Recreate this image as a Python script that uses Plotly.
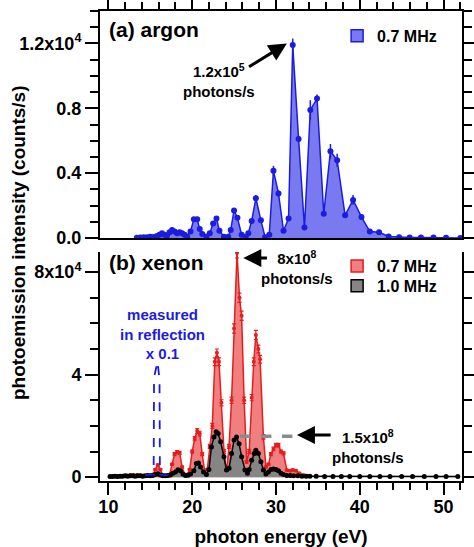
import plotly.graph_objects as go

# ---------------- data ----------------
# (a) argon, 0.7 MHz  (counts/s)
argon_x = [13.4, 13.8, 14.2, 14.6, 15.0, 15.4, 15.8, 16.1, 16.4, 16.7,
           17.0, 17.3, 17.6, 17.9, 18.2, 18.5, 18.8, 19.1, 19.4, 19.8,
           20.2, 20.6, 20.9, 21.2, 21.7, 22.1, 22.5, 22.9, 23.25, 23.8,
           24.3, 24.6, 25.0, 25.4, 25.9, 26.4, 26.7, 27.1, 27.6, 28.2,
           28.7, 29.2, 29.7, 30.3, 30.9, 31.5, 32.0, 32.7, 33.4, 34.1,
           34.9, 35.7, 36.5, 37.3, 38.25, 39.2, 40.2, 41.2, 42.3, 43.45,
           44.7, 45.95, 47.3, 48.8, 50.3, 52.0]
argon_y = [20, 30, 40, 50, 80, 60, 120, 200, 300, 200,
           150, 350, 500, 400, 300, 350, 300, 200, 100, 400,
           1150, 1150, 550, 250, 100, 300, 900, 1200, 450, 80,
           80, 500, 1700, 1250, 200, 80, 300, 1050, 2450, 1100,
           50, 200, 4150, 2750, 450, 1200, 11900, 6100, 650, 7900,
           8600, 1500, 5350, 4800, 1400, 2350, 1300, 400, 350, 100,
           50, 30, 30, 30, 20, 0]
argon_err = [0, 0, 0, 0, 0, 0, 0, 0, 0, 0,
             0, 0, 50, 0, 0, 0, 0, 0, 0, 0,
             80, 80, 0, 0, 0, 0, 60, 80, 0, 0,
             0, 0, 120, 80, 0, 0, 0, 80, 200, 80,
             0, 0, 300, 200, 0, 100, 400, 200, 0, 600,
             250, 100, 450, 400, 100, 300, 150, 0, 0, 0,
             0, 0, 0, 0, 0, 0]

# (b) xenon, 0.7 MHz
xenon07_x = [11.4, 11.8, 12.2, 12.6, 13.0, 13.4, 13.8, 14.2, 14.6, 15.0,
             15.3, 15.6, 15.9, 16.2, 16.5, 16.9, 17.3, 17.6, 17.9, 18.2,
             18.5, 18.8, 19.1, 19.4, 19.7, 20.0, 20.3, 20.6, 20.9, 21.2,
             21.5, 21.8, 22.1, 22.4, 22.7, 22.95, 23.2, 23.5, 23.8, 24.1,
             24.4, 24.7, 25.0, 25.35, 25.65, 25.9, 26.2, 26.5, 26.8, 27.1,
             27.35, 27.6, 27.9, 28.1, 28.5, 28.8, 29.1, 29.4, 29.7, 30.0,
             30.3, 30.6, 30.9, 31.3, 31.7, 32.0, 32.4, 32.8, 33.3, 33.8]
xenon07_y = [400, 500, 600, 700, 800, 800, 700, 600, 500, 600,
             1000, 3000, 4700, 3000, 800, 500, 1000, 5000, 9000, 9800,
             9500, 4000, 1000, 1000, 3000, 10000, 15000, 18000, 17000, 9000,
             2000, 3000, 12000, 20000, 45000, 48500, 45000, 29000, 10000, 2000,
             12000, 30000, 58000, 87500, 70000, 63000, 30000, 6000, 10000, 31000,
             45000, 55500, 50000, 46000, 15700, 4000, 5000, 9000, 11000, 12500,
             12500, 10000, 9300, 2700, 2500, 2800, 2500, 1500, 800, 500]
xenon07_err = [0, 0, 0, 0, 0, 0, 0, 0, 0, 0,
               0, 300, 400, 300, 0, 0, 0, 400, 600, 600,
               600, 300, 0, 0, 300, 600, 800, 900, 900, 600,
               0, 300, 800, 1000, 1500, 1500, 1500, 1200, 800, 0,
               800, 1200, 1800, 2000, 1800, 1800, 1200, 500, 800, 1200,
               1500, 1800, 1500, 1500, 900, 300, 400, 600, 700, 700,
               700, 600, 600, 300, 300, 300, 300, 0, 0, 0]

# (b) xenon, 1.0 MHz
xenon10_x = [10.2, 10.5, 10.8, 11.1, 11.4, 11.7, 12.0, 12.3, 12.6, 12.9,
             13.2, 13.5, 13.8, 14.1, 14.4, 14.7, 15.0, 15.3, 15.6, 15.9,
             16.2, 16.5, 16.8, 17.1, 17.4, 17.7, 18.0, 18.3, 18.6, 18.9,
             19.2, 19.5, 19.8, 20.2, 20.5, 20.75, 21.0, 21.35, 21.7, 22.0,
             22.3, 22.6, 22.86, 23.1, 23.4, 23.8, 24.1, 24.4, 24.7, 25.0,
             25.3, 25.6, 25.9, 26.3, 26.6, 26.8, 27.1, 27.4, 27.6, 27.9,
             28.2, 28.5, 28.8, 29.1, 29.4, 29.7, 30.0, 30.3, 30.6, 30.9,
             31.3, 31.7, 32.1, 32.6, 33.1, 33.6, 34.05, 34.8, 35.8, 36.8,
             37.8, 38.8, 40.0, 41.2, 42.4, 43.6, 45.0, 46.3, 47.7, 49.1,
             50.3, 51.7]
xenon10_y = [300, 300, 400, 300, 400, 400, 500, 400, 500, 500,
             400, 500, 500, 400, 500, 600, 500, 600, 1000, 1300,
             800, 500, 500, 600, 800, 1500, 2000, 2900, 2500, 1200,
             600, 700, 1200, 2500, 5300, 5500, 4000, 2000, 1000, 3000,
             11800, 15700, 17700, 17000, 13800, 8000, 2800, 3500, 9200, 14500,
             15700, 13000, 8000, 2800, 1500, 3000, 6600, 9200, 10500, 9200,
             6000, 2800, 1200, 2000, 3000, 3200, 3000, 2500, 1500, 1000,
             600, 600, 500, 500, 400, 400, 400, 400, 300, 300,
             300, 300, 300, 300, 300, 300, 300, 300, 300, 300,
             300, 300]

# xenon measured in reflection (x 0.1)
refl_x = [14.4, 14.8, 15.2, 15.4, 15.45, 15.87, 16.1, 16.15, 16.5, 17.0, 17.6]
refl_y = [800, 800, 800, 1000, 39000, 45000, 38000, 1000, 800, 800, 800]

# ticks
x_tickvals = [10, 20, 30, 40, 50]
argon_tickvals = [0, 4000, 8000, 12000]
argon_ticktext = ["0.0", "0.4", "0.8", "1.2x10<sup>4</sup>"]
xenon_tickvals = [0, 40000, 80000]
xenon_ticktext = ["0", "4", "8x10<sup>4</sup>"]

# flux reference marker (level of 1.0 MHz peak)
flux_level = 16000
flux_x = [25.7, 32.0]

# ---------------- figure ----------------
FONT = "Liberation Sans"
BLUE = "#1c1ce0"
BLUE_FILL = "#7a7af0"
RED = "#e41e1e"
RED_FILL = "#f27f7f"
GRAY_FILL = "#858585"

fig = go.Figure()

fig.add_trace(go.Scatter(
    x=argon_x, y=argon_y, xaxis="x2", yaxis="y2", mode="lines+markers",
    fill="tozeroy", fillcolor=BLUE_FILL, line=dict(color=BLUE, width=1.5),
    marker=dict(color=BLUE, size=6),
    error_y=dict(type="data", array=argon_err, color=BLUE, thickness=1.5, width=0),
    showlegend=False))

fig.add_trace(go.Scatter(
    x=xenon07_x, y=xenon07_y, xaxis="x", yaxis="y", mode="lines+markers",
    fill="tozeroy", fillcolor=RED_FILL, line=dict(color=RED, width=1.5),
    marker=dict(color=RED, size=4),
    error_y=dict(type="data", array=xenon07_err, color=RED, thickness=1.2, width=2),
    showlegend=False))

fig.add_trace(go.Scatter(
    x=xenon10_x, y=xenon10_y, xaxis="x", yaxis="y", mode="lines+markers",
    fill="tozeroy", fillcolor=GRAY_FILL, line=dict(color="black", width=1.5),
    marker=dict(color="black", size=5),
    showlegend=False))

fig.add_trace(go.Scatter(
    x=refl_x, y=refl_y, xaxis="x", yaxis="y", mode="lines",
    line=dict(color=BLUE, width=1.8, dash="dash"), showlegend=False))

fig.add_trace(go.Scatter(
    x=flux_x, y=[flux_level, flux_level], xaxis="x", yaxis="y", mode="lines",
    line=dict(color="#8c8c8c", width=3.5, dash="dash"), showlegend=False))

# legend proxies
fig.add_trace(go.Bar(x=[None], y=[None], xaxis="x2", yaxis="y2", name="0.7 MHz",
                     marker=dict(color=BLUE_FILL, line=dict(color=BLUE, width=1.5)),
                     legend="legend"))
fig.add_trace(go.Bar(x=[None], y=[None], xaxis="x", yaxis="y", name="0.7 MHz",
                     marker=dict(color=RED_FILL, line=dict(color=RED, width=1.5)),
                     legend="legend2"))
fig.add_trace(go.Bar(x=[None], y=[None], xaxis="x", yaxis="y", name="1.0 MHz",
                     marker=dict(color=GRAY_FILL, line=dict(color="black", width=1.5)),
                     legend="legend3"))

tickfont = dict(family=FONT, size=18, color="black", weight="bold")
common_x = dict(range=[9, 52.2], tickvals=x_tickvals, ticks="outside", ticklen=12,
                tickwidth=2, tickcolor="black", showline=True, linewidth=2,
                linecolor="black", showgrid=False, zeroline=False, automargin=False,
                minor=dict(dtick=2, ticks="outside", ticklen=7, tickwidth=2,
                           tickcolor="black", showgrid=False))
common_y = dict(ticks="outside", ticklen=13, tickwidth=2, tickcolor="black",
                showline=True, linewidth=2, linecolor="black", showgrid=False,
                zeroline=False, mirror="ticks", tickfont=tickfont, automargin=False)

legend_font = dict(family=FONT, size=16, color="black", weight="bold")
fig.update_layout(
    width=474, height=547,
    margin=dict(l=100, r=12, t=11, b=66, autoexpand=False),
    paper_bgcolor="white", plot_bgcolor="white",
    xaxis=dict(domain=[0, 1], anchor="y", tickfont=tickfont, ticklabelstandoff=-4,
               title=dict(text="photon energy (eV)", standoff=14,
                          font=dict(family=FONT, size=19, color="black", weight="bold")),
               **common_x),
    yaxis=dict(domain=[0, 0.487], anchor="x", range=[-1500, 87800],
               tickvals=xenon_tickvals, ticktext=xenon_ticktext,
               minor=dict(dtick=10000, ticks="outside", ticklen=8, tickwidth=2,
                          tickcolor="black", showgrid=False),
               **common_y),
    xaxis2=dict(domain=[0, 1], anchor="y2", matches="x", side="top",
                showticklabels=False, mirror=True, **common_x),
    yaxis2=dict(domain=[0.517, 1], anchor="x2", range=[0, 14000],
                tickvals=argon_tickvals, ticktext=argon_ticktext,
                minor=dict(dtick=1000, ticks="outside", ticklen=8, tickwidth=2,
                           tickcolor="black", showgrid=False),
                **common_y),
    legend=dict(x=0.655, y=0.947, xanchor="left", yanchor="middle",
                bgcolor="rgba(0,0,0,0)", font=legend_font),
    legend2=dict(x=0.655, y=0.457, xanchor="left", yanchor="middle",
                 bgcolor="rgba(0,0,0,0)", font=legend_font),
    legend3=dict(x=0.655, y=0.415, xanchor="left", yanchor="middle",
                 bgcolor="rgba(0,0,0,0)", font=legend_font),
)

ann_font = dict(family=FONT, size=15, color="black", weight="bold")
arrow = dict(showarrow=True, arrowhead=2, arrowsize=1.2, arrowwidth=3,
             arrowcolor="black", text="", standoff=0, startstandoff=0)

fig.add_annotation(text="(a) argon", xref="paper", yref="paper", x=0.02, y=0.96,
                   xanchor="left", yanchor="middle", showarrow=False,
                   font=dict(family=FONT, size=21, color="black", weight="bold"))
fig.add_annotation(text="(b) xenon", xref="paper", yref="paper", x=0.02, y=0.465,
                   xanchor="left", yanchor="middle", showarrow=False,
                   font=dict(family=FONT, size=21, color="black", weight="bold"))
fig.add_annotation(text="1.2x10<sup>5</sup><br>photons/s", xref="x2", yref="y2",
                   x=23.2, y=9700, showarrow=False, font=ann_font)
fig.add_annotation(xref="x2", yref="y2", axref="x2", ayref="y2",
                   x=31.3, y=12000, ax=26.6, ay=10500, **arrow)
fig.add_annotation(text="8x10<sup>8</sup><br>photons/s", xref="x", yref="y",
                   x=32.5, y=81800, showarrow=False, font=ann_font)
fig.add_annotation(xref="x", yref="y", axref="x", ayref="y",
                   x=26.1, y=85500, ax=29.1, ay=85500, **arrow)
fig.add_annotation(text="1.5x10<sup>8</sup><br>photons/s", xref="x", yref="y",
                   x=40.95, y=12000, showarrow=False, font=ann_font)
fig.add_annotation(xref="x", yref="y", axref="x", ayref="y",
                   x=32.5, y=16400, ax=36.7, ay=16400, **arrow)
fig.add_annotation(text="measured<br>in reflection<br>x 0.1", xref="x", yref="y",
                   x=16.4, y=56000, showarrow=False,
                   font=dict(family=FONT, size=15, color=BLUE, weight="bold"))
fig.add_annotation(text="photoemission intensity (counts/s)", xref="paper", yref="paper",
                   x=-0.227, y=0.508, textangle=-90, showarrow=False,
                   xanchor="center", yanchor="middle",
                   font=dict(family=FONT, size=19, color="black", weight="bold"))

fig.write_html("out.html", config={"displayModeBar": False},
               post_script="document.body.style.margin='0px';")
